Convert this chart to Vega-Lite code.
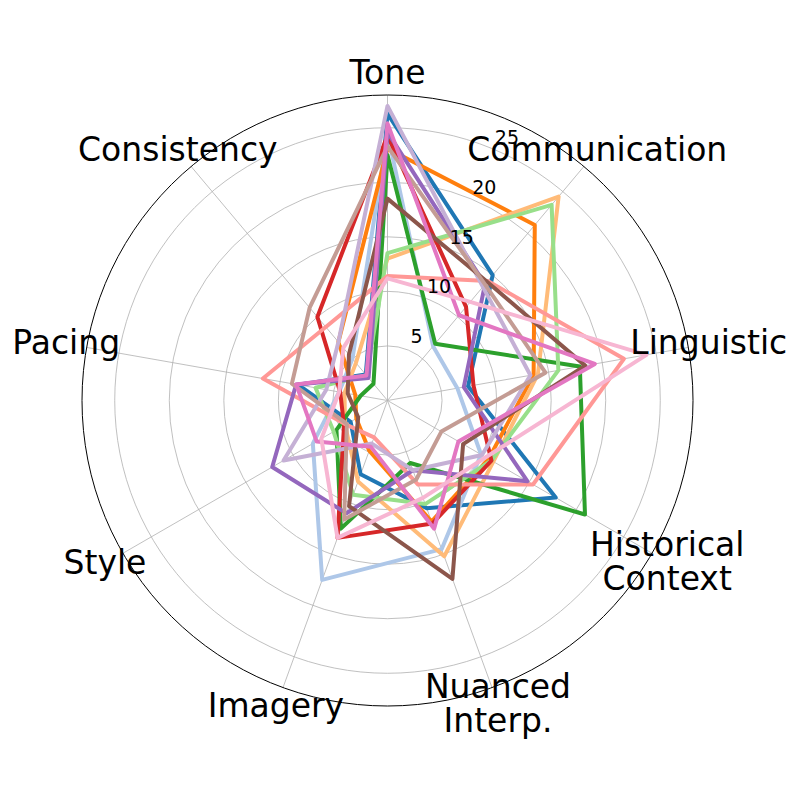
{
  "$schema": "https://vega.github.io/schema/vega-lite/v6.json",
  "width": 611,
  "height": 611,
  "autosize": "none",
  "padding": {"left": 82, "top": 95, "right": 107, "bottom": 94},
  "background": "white",
  "config": {"view": {"stroke": null}, "font": "DejaVu Sans"},
  "datasets": {
    "axes": [
      {"axis": "Tone", "idx": 0, "label": "Tone", "lines": 1},
      {"axis": "Communication", "idx": 1, "label": "Communication", "lines": 1},
      {"axis": "Linguistic", "idx": 2, "label": "Linguistic", "lines": 1},
      {"axis": "Historical Context", "idx": 3, "label": "Historical\nContext", "lines": 2},
      {"axis": "Nuanced Interp.", "idx": 4, "label": "Nuanced\nInterp.", "lines": 2},
      {"axis": "Imagery", "idx": 5, "label": "Imagery", "lines": 1},
      {"axis": "Style", "idx": 6, "label": "Style", "lines": 1},
      {"axis": "Pacing", "idx": 7, "label": "Pacing", "lines": 1},
      {"axis": "Consistency", "idx": 8, "label": "Consistency", "lines": 1}
    ],
    "scores": [
      {"series": "S01", "axis": "Tone", "value": 26.3},
      {"series": "S01", "axis": "Communication", "value": 15.0},
      {"series": "S01", "axis": "Linguistic", "value": 7.5},
      {"series": "S01", "axis": "Historical Context", "value": 17.8},
      {"series": "S01", "axis": "Nuanced Interp.", "value": 10.5},
      {"series": "S01", "axis": "Imagery", "value": 7.2},
      {"series": "S01", "axis": "Style", "value": 3.9},
      {"series": "S01", "axis": "Pacing", "value": 8.3},
      {"series": "S01", "axis": "Consistency", "value": 3.1},
      {"series": "S02", "axis": "Tone", "value": 24.5},
      {"series": "S02", "axis": "Communication", "value": 6.5},
      {"series": "S02", "axis": "Linguistic", "value": 6.5},
      {"series": "S02", "axis": "Historical Context", "value": 9.9},
      {"series": "S02", "axis": "Nuanced Interp.", "value": 14.5},
      {"series": "S02", "axis": "Imagery", "value": 17.5},
      {"series": "S02", "axis": "Style", "value": 7.9},
      {"series": "S02", "axis": "Pacing", "value": 4.5},
      {"series": "S02", "axis": "Consistency", "value": 5.0},
      {"series": "S03", "axis": "Tone", "value": 23.1},
      {"series": "S03", "axis": "Communication", "value": 21.0},
      {"series": "S03", "axis": "Linguistic", "value": 13.6},
      {"series": "S03", "axis": "Historical Context", "value": 10.7},
      {"series": "S03", "axis": "Nuanced Interp.", "value": 11.8},
      {"series": "S03", "axis": "Imagery", "value": 4.9},
      {"series": "S03", "axis": "Style", "value": 3.3},
      {"series": "S03", "axis": "Pacing", "value": 3.0},
      {"series": "S03", "axis": "Consistency", "value": 7.0},
      {"series": "S04", "axis": "Tone", "value": 13.0},
      {"series": "S04", "axis": "Communication", "value": 24.4},
      {"series": "S04", "axis": "Linguistic", "value": 14.0},
      {"series": "S04", "axis": "Historical Context", "value": 11.2},
      {"series": "S04", "axis": "Nuanced Interp.", "value": 15.2},
      {"series": "S04", "axis": "Imagery", "value": 7.9},
      {"series": "S04", "axis": "Style", "value": 4.5},
      {"series": "S04", "axis": "Pacing", "value": 4.0},
      {"series": "S04", "axis": "Consistency", "value": 4.5},
      {"series": "S05", "axis": "Tone", "value": 22.5},
      {"series": "S05", "axis": "Communication", "value": 6.8},
      {"series": "S05", "axis": "Linguistic", "value": 17.9},
      {"series": "S05", "axis": "Historical Context", "value": 20.9},
      {"series": "S05", "axis": "Nuanced Interp.", "value": 6.1},
      {"series": "S05", "axis": "Imagery", "value": 12.5},
      {"series": "S05", "axis": "Style", "value": 5.4},
      {"series": "S05", "axis": "Pacing", "value": 2.5},
      {"series": "S05", "axis": "Consistency", "value": 2.0},
      {"series": "S06", "axis": "Tone", "value": 13.5},
      {"series": "S06", "axis": "Communication", "value": 23.4},
      {"series": "S06", "axis": "Linguistic", "value": 15.9},
      {"series": "S06", "axis": "Historical Context", "value": 11.0},
      {"series": "S06", "axis": "Nuanced Interp.", "value": 10.1},
      {"series": "S06", "axis": "Imagery", "value": 9.2},
      {"series": "S06", "axis": "Style", "value": 5.7},
      {"series": "S06", "axis": "Pacing", "value": 6.7},
      {"series": "S06", "axis": "Consistency", "value": 3.0},
      {"series": "S07", "axis": "Tone", "value": 24.3},
      {"series": "S07", "axis": "Communication", "value": 11.2},
      {"series": "S07", "axis": "Linguistic", "value": 8.0},
      {"series": "S07", "axis": "Historical Context", "value": 11.0},
      {"series": "S07", "axis": "Nuanced Interp.", "value": 12.0},
      {"series": "S07", "axis": "Imagery", "value": 13.4},
      {"series": "S07", "axis": "Style", "value": 4.6},
      {"series": "S07", "axis": "Pacing", "value": 4.4},
      {"series": "S07", "axis": "Consistency", "value": 10.0},
      {"series": "S08", "axis": "Tone", "value": 11.4},
      {"series": "S08", "axis": "Communication", "value": 14.3},
      {"series": "S08", "axis": "Linguistic", "value": 22.0},
      {"series": "S08", "axis": "Historical Context", "value": 15.4},
      {"series": "S08", "axis": "Nuanced Interp.", "value": 8.2},
      {"series": "S08", "axis": "Imagery", "value": 3.6},
      {"series": "S08", "axis": "Style", "value": 4.4},
      {"series": "S08", "axis": "Pacing", "value": 11.6},
      {"series": "S08", "axis": "Consistency", "value": 8.8},
      {"series": "S09", "axis": "Tone", "value": 24.6},
      {"series": "S09", "axis": "Communication", "value": 13.9},
      {"series": "S09", "axis": "Linguistic", "value": 7.1},
      {"series": "S09", "axis": "Historical Context", "value": 14.8},
      {"series": "S09", "axis": "Nuanced Interp.", "value": 6.8},
      {"series": "S09", "axis": "Imagery", "value": 11.0},
      {"series": "S09", "axis": "Style", "value": 12.2},
      {"series": "S09", "axis": "Pacing", "value": 8.5},
      {"series": "S09", "axis": "Consistency", "value": 2.7},
      {"series": "S10", "axis": "Tone", "value": 27.0},
      {"series": "S10", "axis": "Communication", "value": 13.6},
      {"series": "S10", "axis": "Linguistic", "value": 13.3},
      {"series": "S10", "axis": "Historical Context", "value": 10.0},
      {"series": "S10", "axis": "Nuanced Interp.", "value": 6.8},
      {"series": "S10", "axis": "Imagery", "value": 4.2},
      {"series": "S10", "axis": "Style", "value": 11.0},
      {"series": "S10", "axis": "Pacing", "value": 5.7},
      {"series": "S10", "axis": "Consistency", "value": 7.0},
      {"series": "S11", "axis": "Tone", "value": 18.5},
      {"series": "S11", "axis": "Communication", "value": 14.2},
      {"series": "S11", "axis": "Linguistic", "value": 18.4},
      {"series": "S11", "axis": "Historical Context", "value": 8.0},
      {"series": "S11", "axis": "Nuanced Interp.", "value": 17.4},
      {"series": "S11", "axis": "Imagery", "value": 10.3},
      {"series": "S11", "axis": "Style", "value": 3.1},
      {"series": "S11", "axis": "Pacing", "value": 3.7},
      {"series": "S11", "axis": "Consistency", "value": 5.5},
      {"series": "S12", "axis": "Tone", "value": 23.3},
      {"series": "S12", "axis": "Communication", "value": 13.9},
      {"series": "S12", "axis": "Linguistic", "value": 14.7},
      {"series": "S12", "axis": "Historical Context", "value": 5.7},
      {"series": "S12", "axis": "Nuanced Interp.", "value": 7.7},
      {"series": "S12", "axis": "Imagery", "value": 11.6},
      {"series": "S12", "axis": "Style", "value": 4.3},
      {"series": "S12", "axis": "Pacing", "value": 8.9},
      {"series": "S12", "axis": "Consistency", "value": 11.1},
      {"series": "S13", "axis": "Tone", "value": 25.4},
      {"series": "S13", "axis": "Communication", "value": 10.2},
      {"series": "S13", "axis": "Linguistic", "value": 19.3},
      {"series": "S13", "axis": "Historical Context", "value": 7.5},
      {"series": "S13", "axis": "Nuanced Interp.", "value": 12.5},
      {"series": "S13", "axis": "Imagery", "value": 4.5},
      {"series": "S13", "axis": "Style", "value": 7.5},
      {"series": "S13", "axis": "Pacing", "value": 8.5},
      {"series": "S13", "axis": "Consistency", "value": 3.0},
      {"series": "S14", "axis": "Tone", "value": 11.2},
      {"series": "S14", "axis": "Communication", "value": 11.8},
      {"series": "S14", "axis": "Linguistic", "value": 24.1},
      {"series": "S14", "axis": "Historical Context", "value": 10.4},
      {"series": "S14", "axis": "Nuanced Interp.", "value": 9.5},
      {"series": "S14", "axis": "Imagery", "value": 13.4},
      {"series": "S14", "axis": "Style", "value": 7.0},
      {"series": "S14", "axis": "Pacing", "value": 4.5},
      {"series": "S14", "axis": "Consistency", "value": 6.3}
    ]
  },
  "layer": [
    {
      "data": {"values": [{"r": 5}, {"r": 10}, {"r": 15}, {"r": 20}, {"r": 25}]},
      "transform": [{"calculate": "0", "as": "c"}],
      "mark": {"type": "point", "shape": "circle", "filled": false, "stroke": "#b0b0b0", "strokeWidth": 0.8, "opacity": 1},
      "encoding": {
        "x": {"field": "c", "type": "quantitative", "scale": {"domain": [-28, 28], "nice": false, "zero": false}, "axis": null},
        "y": {"field": "c", "type": "quantitative", "scale": {"domain": [-28, 28], "nice": false, "zero": false}, "axis": null},
        "size": {"field": "r", "type": "quantitative", "scale": {"type": "pow", "exponent": 2, "domain": [0, 28], "range": [0, 373321], "zero": true}, "legend": null}
      }
    },
    {
      "data": {"name": "axes"},
      "transform": [
        {"calculate": "0", "as": "c"},
        {"calculate": "PI/2 - datum.idx*2*PI/9", "as": "ang"},
        {"calculate": "28*cos(datum.ang)", "as": "ex"},
        {"calculate": "28*sin(datum.ang)", "as": "ey"}
      ],
      "mark": {"type": "rule", "color": "#b0b0b0", "strokeWidth": 0.8},
      "encoding": {
        "x": {"field": "c", "type": "quantitative"},
        "y": {"field": "c", "type": "quantitative"},
        "x2": {"field": "ex"},
        "y2": {"field": "ey"}
      }
    },
    {
      "data": {"values": [{"r": 28}]},
      "transform": [{"calculate": "0", "as": "c"}],
      "mark": {"type": "point", "shape": "circle", "filled": false, "stroke": "black", "strokeWidth": 1, "opacity": 1},
      "encoding": {
        "x": {"field": "c", "type": "quantitative"},
        "y": {"field": "c", "type": "quantitative"},
        "size": {"field": "r", "type": "quantitative", "legend": null}
      }
    },
    {
      "data": {"name": "scores"},
      "transform": [
        {"lookup": "axis", "from": {"data": {"name": "axes"}, "key": "axis", "fields": ["idx"]}},
        {"calculate": "PI/2 - datum.idx*2*PI/9", "as": "ang"},
        {"calculate": "datum.value*cos(datum.ang)", "as": "px"},
        {"calculate": "datum.value*sin(datum.ang)", "as": "py"}
      ],
      "mark": {"type": "line", "interpolate": "linear-closed", "strokeWidth": 4, "strokeJoin": "round"},
      "encoding": {
        "x": {"field": "px", "type": "quantitative"},
        "y": {"field": "py", "type": "quantitative"},
        "order": {"field": "idx", "type": "quantitative"},
        "color": {
          "field": "series", "type": "nominal", "legend": null,
          "scale": {
            "domain": ["S01","S02","S03","S04","S05","S06","S07","S08","S09","S10","S11","S12","S13","S14"],
            "range": ["#1f77b4","#aec7e8","#ff7f0e","#ffbb78","#2ca02c","#98df8a","#d62728","#ff9896","#9467bd","#c5b0d5","#8c564b","#c49c94","#e377c2","#f7b6d2"]
          }
        }
      }
    },
    {
      "data": {"values": [{"t": 5}, {"t": 10}, {"t": 15}, {"t": 20}, {"t": 25}]},
      "transform": [
        {"calculate": "(datum.t + 1.4)*cos(65.5*PI/180)", "as": "lx"},
        {"calculate": "(datum.t + 1.4)*sin(65.5*PI/180)", "as": "ly"}
      ],
      "mark": {"type": "text", "fontSize": 19, "align": "center", "baseline": "middle", "color": "black"},
      "encoding": {
        "x": {"field": "lx", "type": "quantitative"},
        "y": {"field": "ly", "type": "quantitative"},
        "text": {"field": "t", "type": "quantitative"}
      }
    },
    {
      "data": {"name": "axes"},
      "transform": [
        {"calculate": "PI/2 - datum.idx*2*PI/9", "as": "ang"},
        {"calculate": "(datum.lines == 1 ? 29.9 : 29.6)*cos(datum.ang)", "as": "lx"},
        {"calculate": "(datum.lines == 1 ? 29.9 : 29.6)*sin(datum.ang) + (datum.lines - 1)*1.5", "as": "ly"}
      ],
      "mark": {"type": "text", "fontSize": 33, "align": "center", "baseline": "middle", "lineBreak": "\n", "lineHeight": 34, "color": "black"},
      "encoding": {
        "x": {"field": "lx", "type": "quantitative"},
        "y": {"field": "ly", "type": "quantitative"},
        "text": {"field": "label", "type": "nominal"}
      }
    }
  ]
}
